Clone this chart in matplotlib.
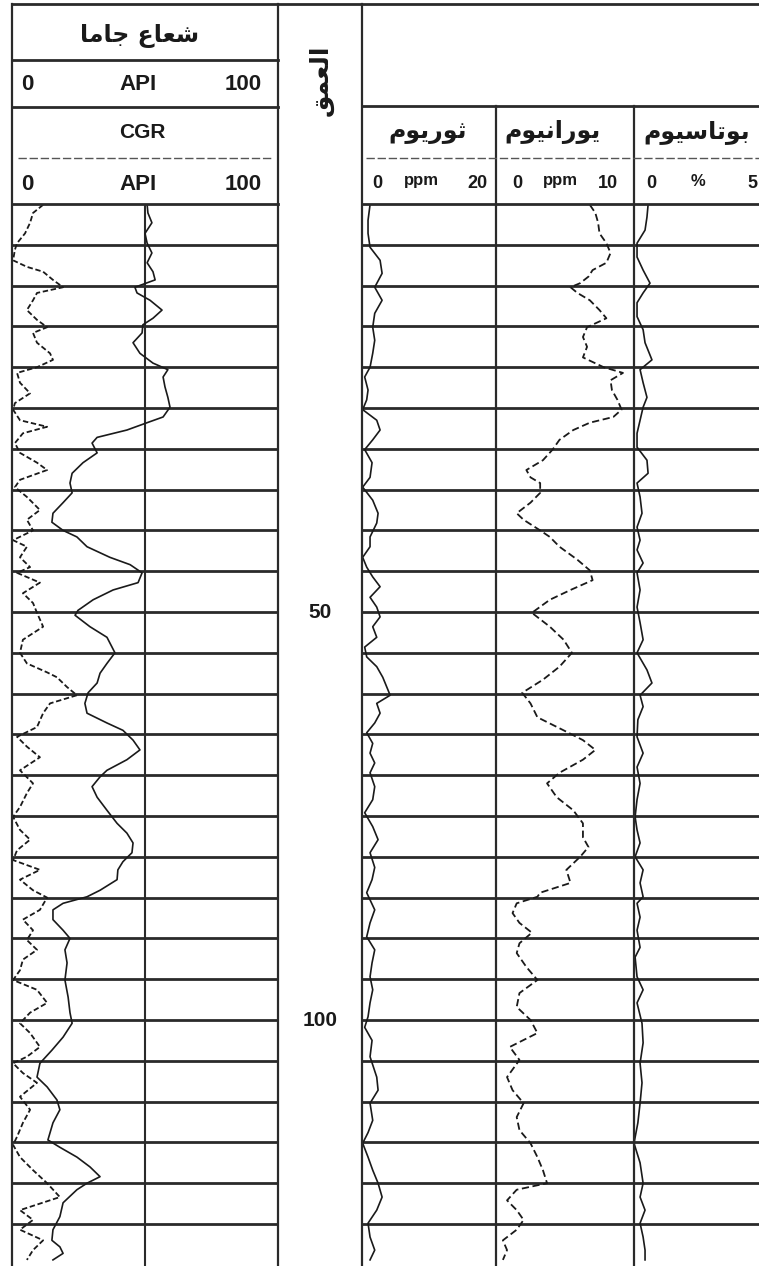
import matplotlib
matplotlib.use("Agg")
import matplotlib.pyplot as plt

# --- data (depth in m, top = 0) ---
gr_depth = [0.1, 1.1, 2.3, 3.6, 4.8, 6.0, 7.2, 8.3, 9.3, 10.2,
            10.9, 11.8, 13.0, 14.0, 14.8, 15.8, 17.0, 18.3, 19.5, 20.3,
            21.2, 22.4, 23.7, 24.9, 26.1, 26.8, 27.7, 28.6, 29.3, 30.5,
            31.7, 33.0, 34.2, 35.4, 36.6, 37.9, 39.0, 40.0, 40.8, 42.0,
            43.3, 44.2, 45.2, 46.4, 47.3, 48.5, 49.8, 50.4, 51.8, 53.1,
            54.3, 55.0, 56.3, 57.5, 58.7, 59.9, 61.2, 62.4, 63.6, 64.5,
            65.7, 66.9, 68.1, 69.4, 70.2, 71.4, 72.7, 74.3, 75.9, 77.1,
            78.3, 79.5, 80.6, 81.6, 82.8, 84.1, 84.9, 85.7, 86.5, 87.7,
            89.0, 90.0, 91.4, 93.0, 95.1, 97.2, 99.1, 100.4, 102.1, 103.7,
            105.3, 107.0, 108.2, 109.8, 111.0, 112.6, 114.7, 115.6, 116.8, 118.0,
            119.2, 120.0, 120.8, 122.4, 124.1, 125.7, 127.0, 127.8, 128.6, 129.4]
gr_api = [50.8, 51.1, 52.6, 50.0, 50.8, 52.6, 50.8, 53.0, 53.8, 46.2,
          47.0, 51.9, 56.4, 53.0, 49.2, 48.9, 45.5, 48.1, 53.0, 58.6,
          56.8, 57.5, 58.6, 59.4, 56.8, 50.8, 43.2, 32.0, 30.1, 32.0,
          26.7, 22.6, 21.8, 22.6, 19.2, 15.4, 15.0, 19.2, 24.4, 28.2,
          36.8, 44.4, 48.9, 47.4, 38.0, 30.5, 24.8, 23.7, 29.3, 35.7,
          37.6, 38.7, 35.7, 33.1, 32.0, 28.6, 27.4, 28.2, 35.7, 41.7,
          45.5, 48.1, 43.2, 35.7, 33.1, 30.1, 32.0, 35.7, 39.5, 43.2,
          45.5, 45.1, 41.7, 39.8, 39.5, 33.1, 28.2, 19.2, 15.4, 15.4,
          19.2, 21.8, 19.9, 20.7, 19.9, 21.1, 21.8, 22.6, 19.2, 15.0,
          10.5, 9.4, 13.2, 16.9, 18.0, 15.4, 13.5, 18.0, 24.4, 29.3,
          33.1, 28.2, 24.4, 19.2, 18.0, 15.4, 15.0, 18.0, 19.2, 15.4]

cgr_depth = [0.1, 1.1, 2.3, 3.6, 4.8, 5.6, 6.9, 7.7, 8.3, 9.3,
             10.2, 10.9, 11.8, 13.0, 14.2, 15.1, 15.8, 17.0, 18.3, 19.1,
             20.0, 20.7, 21.9, 23.2, 24.4, 25.2, 26.5, 27.3, 28.1, 29.3,
             30.5, 31.7, 32.6, 33.8, 34.7, 35.9, 37.5, 38.7, 40.0, 41.2,
             42.0, 43.3, 44.5, 45.2, 46.4, 47.7, 48.9, 50.1, 51.8, 53.4,
             55.0, 56.3, 57.4, 58.0, 59.2, 60.2, 61.2, 62.4, 64.1, 65.3,
             66.5, 67.8, 69.4, 71.0, 72.2, 73.9, 75.1, 76.7, 77.9, 79.2,
             80.4, 81.6, 82.8, 84.1, 85.0, 86.5, 87.7, 89.0, 90.2, 91.4,
             92.6, 93.9, 95.1, 96.3, 97.9, 99.1, 100.4, 101.6, 103.3, 104.5,
             105.3, 106.5, 107.7, 109.4, 111.0, 112.6, 114.3, 115.3, 116.8, 118.4,
             120.0, 121.7, 123.3, 124.5, 125.7, 127.0, 128.2, 129.4]
cgr_api = [11.7, 7.9, 6.8, 4.9, 1.9, 1.1, 0.4, 5.6, 11.7, 15.4,
           19.2, 9.4, 7.9, 5.6, 9.4, 13.2, 7.9, 9.4, 14.3, 15.4,
           9.4, 1.9, 3.0, 6.8, 1.1, 0.4, 3.0, 13.2, 4.1, 1.1,
           3.0, 9.4, 13.2, 3.0, 1.1, 5.6, 10.5, 5.6, 7.9, 0.4,
           5.6, 3.0, 6.8, 1.9, 10.5, 4.1, 7.9, 9.4, 11.7, 4.1,
           3.0, 5.6, 13.2, 16.9, 20.7, 24.4, 14.3, 11.7, 9.4, 1.9,
           5.6, 10.5, 3.0, 7.9, 5.6, 3.0, 0.4, 3.0, 6.8, 1.9,
           0.4, 10.5, 3.0, 7.9, 13.2, 10.5, 4.1, 7.9, 5.6, 9.4,
           4.1, 3.0, 0.4, 9.4, 13.2, 6.8, 3.0, 6.8, 10.5, 5.6,
           0.4, 4.1, 9.4, 3.0, 6.8, 4.1, 1.9, 0.4, 3.0, 7.9,
           13.2, 18.0, 3.0, 7.9, 3.0, 11.7, 7.9, 5.6]

th_depth = [0.1, 2.0, 3.6, 5.3, 6.9, 8.5, 10.2, 11.8, 13.4, 15.1,
            16.7, 18.3, 20.0, 21.2, 22.8, 24.0, 25.2, 26.5, 27.7, 28.9,
            30.1, 31.7, 33.5, 34.7, 36.3, 37.9, 39.1, 40.8, 42.0, 43.3,
            44.5, 45.7, 46.9, 48.2, 49.4, 50.6, 51.8, 53.1, 54.3, 55.5,
            56.7, 58.0, 59.2, 60.2, 61.2, 62.4, 63.6, 64.8, 66.1, 67.3,
            68.5, 69.7, 71.4, 73.0, 74.6, 76.3, 77.9, 79.5, 81.3, 82.8,
            84.4, 86.5, 88.1, 89.8, 91.4, 93.0, 94.7, 96.3, 97.9, 99.6,
            100.9, 102.5, 104.5, 107.0, 108.6, 110.2, 112.3, 113.8, 115.1, 116.8,
            118.4, 120.0, 121.7, 123.3, 124.9, 126.6, 128.2, 129.4]
th_ppm = [1.2, 0.9, 0.9, 1.2, 2.7, 3.0, 1.9, 3.0, 1.9, 1.6,
          1.9, 1.6, 1.2, 0.4, 0.9, 0.7, 0.1, 2.2, 2.7, 1.6,
          0.4, 1.5, 1.2, 0.1, 1.6, 2.4, 2.2, 1.2, 1.2, 0.1,
          0.7, 1.6, 2.7, 1.2, 2.2, 2.7, 1.6, 2.2, 0.4, 0.7,
          2.2, 3.1, 3.7, 4.2, 2.2, 2.7, 1.9, 0.7, 1.6, 1.2,
          1.9, 1.2, 1.9, 1.6, 0.4, 1.6, 2.4, 1.2, 1.9, 1.5,
          0.7, 1.9, 1.2, 0.7, 1.9, 1.5, 1.2, 1.6, 1.2, 0.9,
          0.4, 1.5, 1.2, 2.2, 2.4, 1.2, 1.6, 0.9, 0.1, 0.9,
          1.6, 2.4, 3.0, 2.2, 0.9, 1.2, 1.9, 1.2]

u_depth = [0.1, 1.1, 2.3, 3.6, 4.8, 6.0, 7.2, 8.1, 8.9, 9.7,
           10.2, 10.9, 11.8, 13.0, 14.0, 15.1, 16.3, 17.5, 18.8, 20.0,
           20.7, 21.6, 22.8, 24.0, 25.2, 26.1, 26.8, 27.7, 28.9, 30.1,
           31.4, 32.6, 33.5, 34.2, 35.4, 36.6, 37.9, 38.7, 40.0, 40.8,
           42.0, 43.6, 44.9, 46.1, 47.3, 48.5, 50.1, 51.8, 53.4, 55.0,
           56.7, 58.3, 59.9, 61.2, 62.9, 64.5, 65.7, 66.9, 68.1, 69.7,
           71.0, 72.7, 74.3, 75.9, 77.6, 78.8, 80.0, 81.6, 83.2, 84.4,
           84.9, 85.7, 86.9, 88.1, 89.3, 90.6, 91.8, 93.5, 95.1, 96.7,
           98.4, 100.0, 101.6, 103.3, 104.9, 107.0, 108.6, 110.2, 111.9, 113.5,
           115.1, 116.8, 118.4, 120.0, 120.8, 122.1, 123.3, 124.5, 125.7, 127.0,
           128.2, 129.4]
u_ppm = [6.8, 7.2, 7.4, 7.5, 8.0, 8.3, 8.0, 7.0, 6.7, 6.1,
         5.4, 5.9, 6.8, 7.5, 8.0, 6.6, 6.3, 6.6, 6.3, 7.8,
         9.2, 8.3, 8.4, 8.8, 9.1, 8.5, 6.8, 5.6, 4.6, 4.1,
         3.4, 2.2, 2.5, 3.2, 3.2, 2.5, 1.5, 2.0, 3.2, 3.9,
         4.6, 5.9, 6.8, 7.0, 5.4, 3.9, 2.6, 3.9, 4.9, 5.5,
         4.6, 3.4, 1.9, 2.5, 3.0, 4.9, 6.3, 7.2, 6.3, 4.6,
         3.7, 4.4, 5.6, 6.3, 6.3, 6.7, 6.1, 5.1, 5.4, 3.2,
         3.0, 1.5, 1.2, 1.7, 2.6, 1.7, 1.5, 2.2, 3.0, 1.7,
         1.5, 2.5, 3.0, 1.0, 1.7, 0.8, 1.2, 2.0, 1.5, 1.7,
         2.5, 3.0, 3.4, 3.7, 1.5, 0.8, 1.5, 2.0, 1.5, 0.5,
         0.8, 0.5]

k_depth = [0.1, 1.6, 3.2, 4.8, 6.5, 8.1, 9.7, 10.9, 12.1, 13.8,
           15.4, 17.0, 19.1, 20.3, 21.9, 23.7, 24.9, 26.5, 28.1, 29.8,
           31.4, 33.0, 34.2, 35.9, 37.9, 39.6, 41.2, 42.4, 44.0, 45.2,
           47.3, 49.4, 51.3, 53.4, 55.0, 57.1, 58.7, 60.2, 61.6, 63.2,
           65.3, 67.3, 69.0, 71.0, 73.0, 75.1, 76.7, 78.3, 80.0, 81.6,
           83.2, 84.9, 85.7, 87.4, 89.0, 91.1, 92.3, 94.7, 96.3, 97.9,
           100.4, 102.8, 105.3, 107.7, 110.2, 112.6, 115.1, 117.5, 120.0, 121.7,
           123.3, 124.9, 126.6, 128.2, 129.4]
k_pct = [0.51, 0.47, 0.40, 0.11, 0.11, 0.33, 0.58, 0.33, 0.11, 0.11,
         0.33, 0.40, 0.65, 0.22, 0.33, 0.47, 0.33, 0.22, 0.11, 0.11,
         0.47, 0.51, 0.11, 0.22, 0.29, 0.11, 0.22, 0.11, 0.33, 0.11,
         0.22, 0.11, 0.22, 0.33, 0.11, 0.47, 0.65, 0.22, 0.33, 0.14,
         0.11, 0.33, 0.11, 0.22, 0.11, 0.04, 0.11, 0.22, 0.04, 0.33,
         0.22, 0.33, 0.11, 0.22, 0.11, 0.22, 0.04, 0.11, 0.33, 0.11,
         0.29, 0.33, 0.22, 0.29, 0.22, 0.14, 0.0, 0.22, 0.33, 0.22,
         0.40, 0.22, 0.33, 0.40, 0.40]

depth_labels = [50, 100]

# --- simple arabic shaping (matplotlib has no text shaping) ---
FORMS = {  # isolated, final, initial, medial
    'ا': ('\uFE8D', '\uFE8E', None, None),
    'ب': ('\uFE8F', '\uFE90', '\uFE91', '\uFE92'),
    'ت': ('\uFE95', '\uFE96', '\uFE97', '\uFE98'),
    'ث': ('\uFE99', '\uFE9A', '\uFE9B', '\uFE9C'),
    'ج': ('\uFE9D', '\uFE9E', '\uFE9F', '\uFEA0'),
    'ر': ('\uFEAD', '\uFEAE', None, None),
    'س': ('\uFEB1', '\uFEB2', '\uFEB3', '\uFEB4'),
    'ش': ('\uFEB5', '\uFEB6', '\uFEB7', '\uFEB8'),
    'ع': ('\uFEC9', '\uFECA', '\uFECB', '\uFECC'),
    'ق': ('\uFED5', '\uFED6', '\uFED7', '\uFED8'),
    'ل': ('\uFEDD', '\uFEDE', '\uFEDF', '\uFEE0'),
    'م': ('\uFEE1', '\uFEE2', '\uFEE3', '\uFEE4'),
    'ن': ('\uFEE5', '\uFEE6', '\uFEE7', '\uFEE8'),
    'و': ('\uFEED', '\uFEEE', None, None),
    'ي': ('\uFEF1', '\uFEF2', '\uFEF3', '\uFEF4'),
}


def ar(s):
    out = []
    for i, c in enumerate(s):
        if c not in FORMS:
            out.append(c)
            continue
        iso, fin, ini, med = FORMS[c]
        prev = s[i - 1] if i > 0 else ''
        nxt = s[i + 1] if i + 1 < len(s) else ''
        jp = prev in FORMS and FORMS[prev][2] is not None
        jn = ini is not None and nxt in FORMS
        out.append(med if jp and jn else fin if jp else ini if jn else iso)
    return ''.join(reversed(out))


# --- layout (pixels) ---
W, H = 759, 1266
TOP, BOT = 204, 1266
DMAX = (BOT - TOP) / 8.16
INK = '#1a1a1a'
GRID = '#2a2a2a'
LAT = ['Liberation Sans', 'DejaVu Sans']
ARB = ['DejaVu Sans']

fig = plt.figure(figsize=(W / 100, H / 100), dpi=100)


def track(x0, x1, xmax, grid=True):
    ax = fig.add_axes([x0 / W, 1 - BOT / H, (x1 - x0) / W, (BOT - TOP) / H])
    ax.set_xlim(0, xmax)
    ax.set_ylim(DMAX, 0)
    ax.axis('off')
    if grid:
        for d in range(5, 130, 5):
            ax.axhline(d, color=GRID, lw=2.0)
    return ax


ax_gr = track(12, 278, 100)
ax_gr.axvline(50, color=GRID, lw=1.5)
ax_gr.plot(gr_api, gr_depth, color=INK, lw=1.2)
ax_gr.plot(cgr_api, cgr_depth, color=INK, lw=1.3, ls=(0, (3, 1.5)))

ax_d = track(278, 362, 1, grid=False)
for d in depth_labels:
    ax_d.text(0.5, d, str(d), ha='center', va='center', fontsize=15,
              fontweight='bold', family=LAT, color=INK)

ax_th = track(362, 496, 20)
ax_th.plot(th_ppm, th_depth, color=INK, lw=1.2)

ax_u = track(496, 634, 10)
ax_u.plot(u_ppm, u_depth, color=INK, lw=1.3, ls=(0, (4, 2)))

ax_k = track(634, 772, 5)
ax_k.plot(k_pct, k_depth, color=INK, lw=1.2)

# --- frame and header drawn in pixel space ---
fr = fig.add_axes([0, 0, 1, 1])
fr.set_xlim(0, W)
fr.set_ylim(H, 0)
fr.axis('off')

for x, y0 in [(12, 4), (278, 4), (362, 4), (496, 106), (634, 106)]:
    fr.plot([x, x], [y0, H], color=GRID, lw=1.6)
fr.plot([12, W], [4, 4], color=GRID, lw=2.0)
for y in [60, 107, 204]:
    fr.plot([12, 278], [y, y], color=GRID, lw=2.0)
for y in [106, 204]:
    fr.plot([362, W], [y, y], color=GRID, lw=2.0)
fr.plot([18, 272], [158, 158], color='#555555', lw=1.0, ls=(0, (6, 2)))
fr.plot([366, W], [158, 158], color='#555555', lw=1.0, ls=(0, (6, 2)))

fr.text(140, 36, ar('شعاع جاما'), ha='center', va='center', fontsize=17,
        fontweight='bold', family=ARB, color=INK)
fr.text(142, 133, 'CGR', ha='center', va='center', fontsize=15,
        fontweight='bold', family=LAT, color=INK)
for y in [84, 184]:
    fr.text(27, y, '0', ha='center', va='center', fontsize=16, fontweight='bold', family=LAT, color=INK)
    fr.text(138, y, 'API', ha='center', va='center', fontsize=16, fontweight='bold', family=LAT, color=INK)
    fr.text(262, y, '100', ha='right', va='center', fontsize=16, fontweight='bold', family=LAT, color=INK)

fr.text(321, 80, ar('العمق'), ha='center', va='center', rotation=90, fontsize=18,
        fontweight='bold', family=ARB, color=INK)

titles = [(428, 'ثوريوم'), (553, 'يورانيوم'), (697, 'بوتاسيوم')]
for x, t in titles:
    fr.text(x, 132, ar(t), ha='center', va='center', fontsize=17,
            fontweight='bold', family=ARB, color=INK)

scales = [(377, 'ppm', 421, '20', 477), (517, 'ppm', 560, '10', 608), (651, '%', 698, '5', 752)]
for x0, unit, xu, top, xt in scales:
    fr.text(x0, 183, '0', ha='center', va='center', fontsize=13, fontweight='bold', family=LAT, color=INK)
    fr.text(xu, 181, unit, ha='center', va='center', fontsize=12, fontweight='bold', family=LAT, color=INK)
    fr.text(xt, 183, top, ha='center', va='center', fontsize=13, fontweight='bold', family=LAT, color=INK)

fig.savefig('out.png', dpi=100)
